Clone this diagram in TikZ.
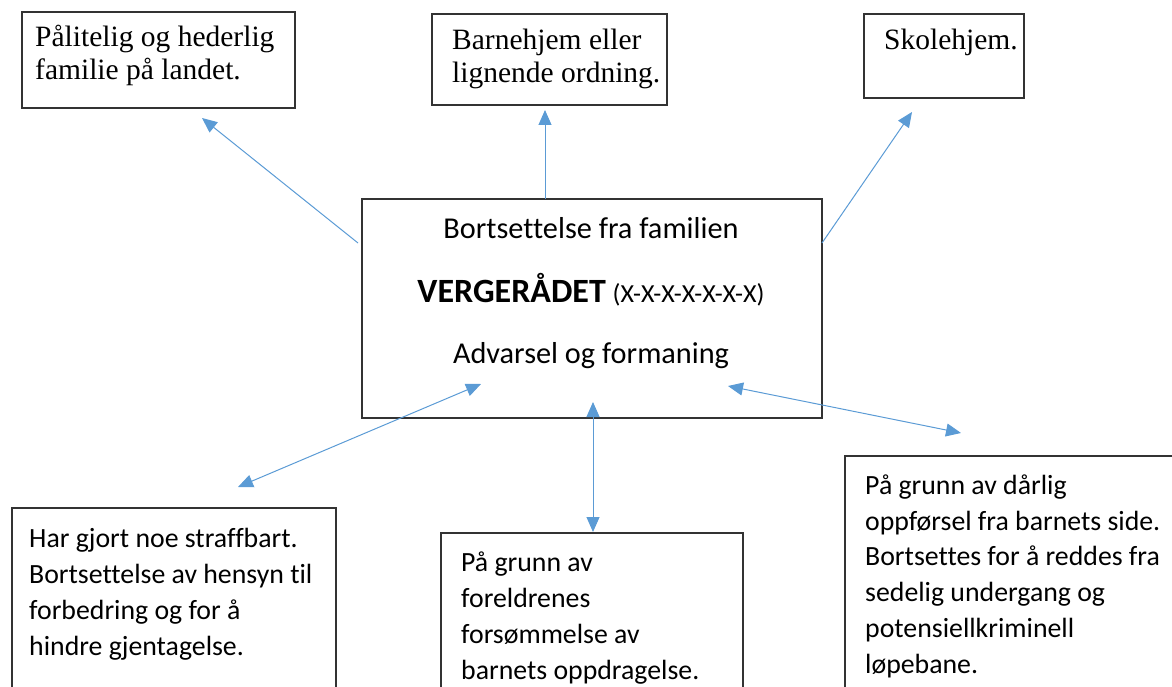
\documentclass[tikz,border=0pt]{standalone}
\usepackage{fontspec}
\setmainfont{Liberation Serif}
\newfontfamily\calibri[Ligatures=NoCommon]{Carlito}
\usetikzlibrary{arrows.meta}
\definecolor{pilblå}{HTML}{5B9BD5}
\begin{document}
\begin{tikzpicture}[x=1pt, y=-1pt,
  boks/.style = {draw = black!80, line width = 1.3pt},
  serif/.style = {anchor = base west, align = left, inner sep = 0pt, font = \fontsize{29.5}{33}\selectfont},
  sans/.style = {anchor = base west, align = left, inner sep = 0pt, font = \calibri\fontsize{27.8}{35.7}\selectfont},
  midt/.style = {anchor = base, inner sep = 0pt, font = \calibri\fontsize{30.3}{36}\selectfont},
  pil/.style = {draw = pilblå, line width = 1pt, -{Triangle[length = 15pt, width = 13pt]}},
  dobbelpil/.style = {pil, {Triangle[length = 15pt, width = 13pt]}-{Triangle[length = 15pt, width = 13pt]}}]
\useasboundingbox (0,0) rectangle (1172,687);
% boksene
\draw[boks] (22,12) rectangle (295,108);
\draw[boks] (432,14) rectangle (667,105);
\draw[boks] (864,14) rectangle (1024,98);
\draw[boks] (362,199) rectangle (822,418);
\draw[boks] (12,508) rectangle (336,700);
\draw[boks] (441,533) rectangle (743,700);
\draw[boks] (845,456) rectangle (1180,700);
% tekst oppe (base = siste linje)
\node[serif] at (35,80) (familie) {Pålitelig og hederlig\\familie på landet.};
\node[serif] at (452,83) (barnehjem) {Barnehjem eller\\lignende ordning.};
\node[serif] at (884,50) (skolehjem) {Skolehjem.};
% vergeraadet
\node[midt] at (591,238) (bort) {Bortsettelse fra familien};
\node[midt] at (591,302) (verge) {{\fontsize{34}{38}\selectfont\bfseries VERGERÅDET} {\fontsize{26}{30}\selectfont(X-X-X-X-X-X-X)}};
\node[midt] at (591,363) (advarsel) {Advarsel og formaning};
% tekst nede
\node[sans] at (29,655) (straff) {Har gjort noe straffbart.\\Bortsettelse av hensyn til\\forbedring og for å\\hindre gjentagelse.};
\node[sans] at (461,679) (foreldre) {På grunn av\\foreldrenes\\forsømmelse av\\barnets oppdragelse.};
\node[sans] at (865,673) (oppforsel) {På grunn av dårlig\\oppførsel fra barnets side.\\Bortsettes for å reddes fra\\sedelig undergang og\\potensiellkriminell\\løpebane.};
% piler
\coordinate (p1a) at (358,243);
\coordinate (p1b) at (202,118);
\coordinate (p2a) at (545,199);
\coordinate (p2b) at (545,110);
\coordinate (p3a) at (822,243);
\coordinate (p3b) at (912,112);
\coordinate (p4a) at (481,384);
\coordinate (p4b) at (238,487);
\coordinate (p5a) at (593,402);
\coordinate (p5b) at (593,532);
\coordinate (p6a) at (728,386);
\coordinate (p6b) at (961,433);
\draw[pil] (p1a) -- (p1b);
\draw[pil] (p2a) -- (p2b);
\draw[pil] (p3a) -- (p3b);
\draw[dobbelpil] (p4a) -- (p4b);
\draw[dobbelpil] (p5a) -- (p5b);
\draw[dobbelpil] (p6a) -- (p6b);
\end{tikzpicture}
\end{document}
